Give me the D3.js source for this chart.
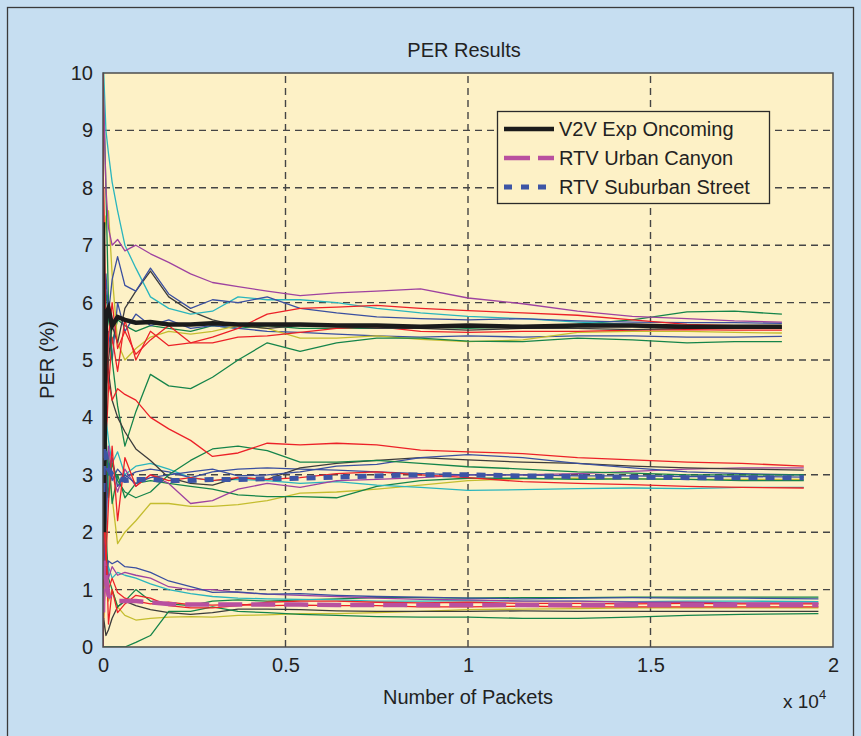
<!DOCTYPE html>
<html>
<head>
<meta charset="utf-8">
<script src="https://cdn.jsdelivr.net/npm/d3@7"></script>
<style>
body { margin: 0; background: #c6def1; }
text { font-family: "Liberation Sans", Arial, sans-serif; fill: #222; }
</style>
</head>
<body>
<svg width="861" height="736"></svg>
<script>
// ---- data ----
var xTicks = [0, 5000, 10000, 15000, 20000];
var xTickLabels = ['0', '0.5', '1', '1.5', '2'];
var yTicks = [0, 1, 2, 3, 4, 5, 6, 7, 8, 9, 10];

// V2V Exp Oncoming runs (~5.6 %)
var v2vPackets = [0, 20, 80, 150, 250, 400, 600, 900, 1300, 1800, 2400, 3000, 3700, 4500, 5400, 6400, 7500, 8700, 10000, 11500, 13000, 14500, 16000, 17300, 18600];
var v2vPurple = [10, 9.5, 8.0, 7.3, 7.0, 7.1, 6.9, 7.0, 6.85, 6.7, 6.5, 6.35, 6.28, 6.2, 6.12, 6.17, 6.2, 6.24, 6.08, 5.98, 5.85, 5.76, 5.72, 5.68, 5.66];
var v2vBlue1 = [0, 5.0, 6.5, 5.8, 6.4, 6.8, 6.3, 6.2, 6.6, 6.15, 5.9, 6.05, 6.0, 6.1, 5.9, 5.82, 5.75, 5.72, 5.7, 5.72, 5.68, 5.66, 5.65, 5.65, 5.64];
var v2vCyan = [10, 10, 9.0, 8.6, 8.1, 7.6, 7.0, 6.6, 6.1, 5.9, 5.8, 5.85, 6.1, 6.05, 6.05, 6.0, 5.9, 5.82, 5.76, 5.72, 5.66, 5.62, 5.6, 5.58, 5.57];
var v2vGray = [3, 4.0, 4.5, 5.0, 5.6, 5.3, 5.9, 6.2, 6.55, 6.1, 5.85, 5.7, 5.6, 5.55, 5.6, 5.58, 5.55, 5.55, 5.52, 5.55, 5.55, 5.53, 5.55, 5.55, 5.56];
var v2vRed1 = [10, 6.0, 4.2, 5.4, 6.0, 5.2, 5.5, 5.1, 5.35, 5.6, 5.3, 5.4, 5.55, 5.8, 5.9, 5.92, 5.95, 5.9, 5.86, 5.82, 5.78, 5.7, 5.62, 5.6, 5.58];
var v2vRed2 = [0, 2.0, 3.5, 4.5, 5.4, 4.8, 5.7, 5.0, 5.5, 5.25, 5.3, 5.3, 5.4, 5.42, 5.48, 5.55, 5.58, 5.5, 5.48, 5.5, 5.5, 5.52, 5.53, 5.52, 5.52];
var v2vOlive = [5, 7.0, 7.5, 7.6, 6.5, 5.3, 5.0, 5.2, 5.4, 5.5, 5.45, 5.5, 5.6, 5.55, 5.38, 5.38, 5.42, 5.36, 5.32, 5.35, 5.48, 5.5, 5.5, 5.48, 5.47];
var v2vGreen1 = [10, 9.5, 8.0, 6.0, 5.0, 4.2, 3.5, 4.1, 4.75, 4.55, 4.5, 4.7, 5.0, 5.3, 5.15, 5.3, 5.38, 5.38, 5.33, 5.32, 5.38, 5.35, 5.3, 5.32, 5.32];
var v2vGreen2 = [7, 5.5, 6.2, 5.7, 5.3, 5.7, 5.6, 5.5, 5.6, 5.55, 5.5, 5.6, 5.55, 5.6, 5.55, 5.55, 5.55, 5.58, 5.55, 5.58, 5.62, 5.7, 5.84, 5.85, 5.8];
var v2vBlue2 = [0, 3.0, 4.5, 5.5, 5.0, 6.0, 5.5, 5.8, 5.6, 5.7, 5.55, 5.6, 5.55, 5.5, 5.48, 5.45, 5.42, 5.4, 5.42, 5.4, 5.42, 5.42, 5.4, 5.4, 5.41];
var v2vMean = [7.4, 2.0, 5.8, 5.9, 5.6, 5.75, 5.7, 5.65, 5.66, 5.62, 5.62, 5.64, 5.62, 5.62, 5.62, 5.6, 5.6, 5.58, 5.6, 5.58, 5.6, 5.6, 5.58, 5.58, 5.58];

// RTV Suburban Street runs (~3 %)
var suburbPackets = [0, 20, 80, 150, 250, 400, 600, 900, 1300, 1800, 2400, 3000, 3700, 4500, 5400, 6400, 7500, 8700, 10000, 11500, 13000, 14500, 16000, 17500, 19200];
var suburbRed1 = [0, 8, 5.5, 4.6, 4.3, 4.5, 4.4, 4.3, 4.0, 3.8, 3.6, 3.32, 3.38, 3.55, 3.52, 3.55, 3.52, 3.43, 3.4, 3.37, 3.3, 3.26, 3.22, 3.2, 3.15];
var suburbGreen1 = [5, 1.5, 3.8, 2.6, 3.2, 2.9, 2.7, 2.6, 2.7, 3.0, 3.25, 3.45, 3.5, 3.42, 3.22, 3.22, 3.25, 3.2, 3.14, 3.1, 3.05, 3.03, 3.0, 3.0, 3.0];
var suburbGray = [6, 3.0, 5.5, 4.8, 4.3, 4.0, 3.75, 3.45, 3.25, 2.95, 2.85, 2.82, 2.95, 2.92, 3.12, 3.2, 3.25, 3.3, 3.26, 3.22, 3.2, 3.15, 3.12, 3.1, 3.08];
var suburbBlue1 = [2, 6.5, 3.5, 3.0, 3.3, 2.8, 3.0, 2.85, 2.95, 3.0, 3.05, 3.1, 2.98, 3.0, 3.05, 3.15, 3.18, 3.3, 3.35, 3.3, 3.2, 3.12, 3.05, 3.02, 3.0];
var suburbCyan = [8, 2.5, 4.0, 3.6, 3.2, 3.4, 3.0, 3.15, 3.2, 3.1, 2.95, 2.9, 2.92, 2.9, 2.85, 2.88, 2.82, 2.78, 2.73, 2.74, 2.76, 2.77, 2.76, 2.78, 2.78];
var suburbPurple = [3, 7, 2.4, 3.5, 3.0, 2.7, 3.1, 2.8, 3.0, 2.85, 2.5, 2.55, 2.75, 2.85, 2.78, 2.9, 2.92, 2.95, 3.0, 3.0, 3.02, 3.06, 3.1, 3.12, 3.12];
var suburbOlive = [1, 4, 2.8, 3.2, 2.6, 1.8, 2.0, 2.2, 2.5, 2.5, 2.45, 2.45, 2.48, 2.55, 2.68, 2.7, 2.75, 2.82, 2.9, 2.93, 2.94, 2.93, 2.92, 2.92, 2.92];
var suburbGreen2 = [9, 3.5, 2.5, 3.4, 2.5, 3.0, 2.6, 2.85, 2.9, 2.85, 2.8, 2.75, 2.65, 2.62, 2.62, 2.6, 2.8, 2.9, 2.94, 2.94, 2.92, 2.93, 2.92, 2.9, 2.9];
var suburbRed2 = [10, 0.5, 1.5, 2.5, 3.5, 2.2, 3.3, 2.8, 3.0, 2.9, 2.95, 2.9, 2.95, 2.92, 2.95, 3.02, 3.05, 3.0, 2.95, 2.88, 2.85, 2.83, 2.8, 2.78, 2.77];
var suburbBlue2 = [0, 4.5, 2.0, 3.2, 2.9, 3.1, 2.95, 3.05, 3.1, 3.05, 2.95, 3.05, 3.1, 3.12, 3.1, 3.08, 3.05, 3.02, 3.0, 3.0, 2.98, 2.98, 2.97, 2.97, 2.96];
var suburbMean = [2.7, 3.5, 3.3, 3.1, 3.0, 2.95, 2.9, 2.92, 2.92, 2.9, 2.9, 2.92, 2.92, 2.93, 2.94, 2.96, 2.98, 3.0, 3.0, 2.98, 2.97, 2.96, 2.95, 2.95, 2.95];

// RTV Urban Canyon runs (~0.7 %)
var urbanPackets = [0, 20, 80, 150, 250, 400, 600, 900, 1300, 1800, 2400, 3000, 3700, 4500, 5400, 6400, 7500, 8700, 10000, 11500, 13000, 14500, 16000, 17500, 19600];
var urbanBlue = [0, 2.0, 1.2, 1.5, 1.45, 1.5, 1.4, 1.38, 1.3, 1.15, 1.05, 0.95, 0.96, 0.92, 0.93, 0.9, 0.88, 0.87, 0.85, 0.84, 0.85, 0.86, 0.85, 0.85, 0.84];
var urbanPurple = [10, 1.0, 1.6, 1.2, 1.4, 1.25, 1.3, 1.25, 1.2, 1.05, 1.0, 1.0, 0.95, 0.92, 0.9, 0.88, 0.85, 0.83, 0.82, 0.8, 0.8, 0.78, 0.78, 0.77, 0.77];
var urbanCyan = [5, 1.8, 1.1, 1.4, 1.2, 1.3, 1.25, 1.2, 1.1, 1.0, 0.93, 0.88, 0.85, 0.84, 0.83, 0.82, 0.8, 0.8, 0.81, 0.8, 0.8, 0.79, 0.8, 0.8, 0.79];
var urbanRed1 = [10, 3.8, 1.9, 0.4, 1.0, 0.6, 0.75, 0.9, 0.85, 0.72, 0.68, 0.68, 0.72, 0.78, 0.8, 0.8, 0.78, 0.77, 0.78, 0.76, 0.76, 0.75, 0.76, 0.75, 0.75];
var urbanRed2 = [0, 2.5, 1.5, 1.0, 1.2, 0.95, 0.85, 0.8, 0.75, 0.78, 0.74, 0.73, 0.74, 0.72, 0.73, 0.72, 0.72, 0.7, 0.7, 0.71, 0.7, 0.7, 0.7, 0.7, 0.7];
var urbanGreen1 = [0, 0, 0, 0, 0, 0, 0, 0.08, 0.2, 0.62, 0.62, 0.7, 0.62, 0.6, 0.57, 0.55, 0.53, 0.52, 0.52, 0.5, 0.5, 0.52, 0.55, 0.57, 0.58];
var urbanGreen2 = [10, 4, 2.0, 1.2, 1.0, 0.7, 0.8, 1.0, 0.8, 0.75, 0.72, 0.8, 0.82, 0.8, 0.82, 0.84, 0.86, 0.86, 0.85, 0.86, 0.86, 0.87, 0.87, 0.87, 0.87];
var urbanGray = [0, 0.5, 0.2, 0.3, 0.5, 0.7, 0.8, 0.72, 0.65, 0.6, 0.57, 0.6, 0.66, 0.66, 0.65, 0.63, 0.62, 0.62, 0.62, 0.63, 0.62, 0.62, 0.62, 0.62, 0.62];
var urbanOlive = [10, 0.5, 1.5, 0.8, 1.0, 0.7, 0.55, 0.47, 0.5, 0.52, 0.53, 0.52, 0.55, 0.56, 0.58, 0.58, 0.6, 0.62, 0.65, 0.66, 0.67, 0.68, 0.68, 0.68, 0.68];
var urbanMean = [0.6, 1.5, 1.2, 0.9, 0.85, 0.8, 0.8, 0.8, 0.78, 0.75, 0.74, 0.74, 0.74, 0.74, 0.74, 0.73, 0.73, 0.73, 0.73, 0.73, 0.73, 0.73, 0.73, 0.73, 0.73];

var legendLabels = ['V2V Exp Oncoming', 'RTV Urban Canyon', 'RTV Suburban Street'];

// ---- colours ----
var c = {
	blue: '#3a4fa0', green: '#15844a', red: '#ec2128', cyan: '#2ab5bd',
	purple: '#9e42a0', olive: '#c4bd2f', gray: '#3c3c3c'
};
var bg = '#c6def1';
var plotFill = '#fdf1c6';

// ---- layout ----
var svg = d3.select('svg');
var svgWidth = +svg.attr('width');
var svgHeight = +svg.attr('height');
var plot = {l: 103, r: 833, t: 73, b: 647};

var x = d3.scaleLinear().domain([0, 20000]).range([plot.l, plot.r]);
var y = d3.scaleLinear().domain([0, 10]).range([plot.b, plot.t]);

svg.append('rect')
	.attr('width', svgWidth).attr('height', svgHeight)
	.attr('fill', bg);
svg.append('rect')
	.attr('x', 7.5).attr('y', 7.5)
	.attr('width', svgWidth - 15).attr('height', svgHeight + 10)
	.attr('fill', 'none').attr('stroke', '#3a3a3a').attr('stroke-width', 1.3);

svg.append('rect')
	.attr('x', plot.l).attr('y', plot.t)
	.attr('width', plot.r - plot.l).attr('height', plot.b - plot.t)
	.attr('fill', plotFill);

svg.append('clipPath').attr('id', 'clip')
	.append('rect')
	.attr('x', plot.l).attr('y', plot.t - 1)
	.attr('width', plot.r - plot.l).attr('height', plot.b - plot.t + 1);

// grid (interior ticks only)
var grid = svg.append('g')
	.attr('stroke', '#454545')
	.attr('stroke-width', 1.4)
	.attr('stroke-dasharray', '7,5');

grid.selectAll('.gx')
	.data(xTicks.slice(1, -1))
	.enter().append('line')
	.attr('x1', function(d) { return x(d); })
	.attr('x2', function(d) { return x(d); })
	.attr('y1', plot.b).attr('y2', plot.t);

grid.selectAll('.gy')
	.data(yTicks.slice(1, -1))
	.enter().append('line')
	.attr('y1', function(d) { return y(d); })
	.attr('y2', function(d) { return y(d); })
	.attr('x1', plot.l).attr('x2', plot.r);

// runs
function drawRuns(packets, runs) {
	var line = d3.line()
		.x(function(d, i) { return x(packets[i]); })
		.y(function(d) { return y(d); });
	svg.append('g')
		.attr('clip-path', 'url(#clip)')
		.selectAll('path')
		.data(runs)
		.enter().append('path')
		.attr('d', function(d) { return line(d.values); })
		.attr('fill', 'none')
		.attr('stroke', function(d) { return d.color; })
		.attr('stroke-width', 1.3)
		.attr('stroke-linejoin', 'round');
	return line;
}

var v2vLine = drawRuns(v2vPackets, [
	{values: v2vGreen2, color: c.green},
	{values: v2vBlue2, color: c.blue},
	{values: v2vOlive, color: c.olive},
	{values: v2vRed2, color: c.red},
	{values: v2vGreen1, color: c.green},
	{values: v2vGray, color: c.gray},
	{values: v2vCyan, color: c.cyan},
	{values: v2vBlue1, color: c.blue},
	{values: v2vRed1, color: c.red},
	{values: v2vPurple, color: c.purple}
]);

var suburbLine = drawRuns(suburbPackets, [
	{values: suburbOlive, color: c.olive},
	{values: suburbGreen2, color: c.green},
	{values: suburbCyan, color: c.cyan},
	{values: suburbPurple, color: c.purple},
	{values: suburbBlue2, color: c.blue},
	{values: suburbGray, color: c.gray},
	{values: suburbBlue1, color: c.blue},
	{values: suburbGreen1, color: c.green},
	{values: suburbRed2, color: c.red},
	{values: suburbRed1, color: c.red}
]);

var urbanLine = drawRuns(urbanPackets, [
	{values: urbanOlive, color: c.olive},
	{values: urbanGray, color: c.gray},
	{values: urbanGreen1, color: c.green},
	{values: urbanGreen2, color: c.green},
	{values: urbanCyan, color: c.cyan},
	{values: urbanPurple, color: c.purple},
	{values: urbanBlue, color: c.blue},
	{values: urbanRed2, color: c.red},
	{values: urbanRed1, color: c.red}
]);

// averages (thick)
var meanStyles = [
	{color: '#1b1b1b', dash: null},
	{color: '#b8509f', dash: '24,9'},
	{color: '#3d55a5', dash: '9,8'}
];

var means = svg.append('g').attr('clip-path', 'url(#clip)');
means.append('path')
	.attr('d', v2vLine(v2vMean))
	.attr('fill', 'none').attr('stroke', meanStyles[0].color).attr('stroke-width', 4.5);
means.append('path')
	.attr('d', urbanLine(urbanMean))
	.attr('fill', 'none').attr('stroke', meanStyles[1].color).attr('stroke-width', 4.5)
	.attr('stroke-dasharray', meanStyles[1].dash);
means.append('path')
	.attr('d', suburbLine(suburbMean))
	.attr('fill', 'none').attr('stroke', meanStyles[2].color).attr('stroke-width', 5)
	.attr('stroke-dasharray', meanStyles[2].dash);

// box
svg.append('rect')
	.attr('x', plot.l).attr('y', plot.t)
	.attr('width', plot.r - plot.l).attr('height', plot.b - plot.t)
	.attr('fill', 'none').attr('stroke', '#4d4d4d').attr('stroke-width', 1.5);

// axes
var xAxis = svg.append('g')
	.attr('transform', 'translate(0,' + plot.b + ')')
	.call(d3.axisBottom(x)
		.tickValues(xTicks)
		.tickFormat(function(d, i) { return xTickLabels[i]; })
		.tickSize(0)
		.tickPadding(11));
xAxis.select('.domain').remove();

var yAxis = svg.append('g')
	.attr('transform', 'translate(' + plot.l + ',0)')
	.call(d3.axisLeft(y)
		.tickValues(yTicks)
		.tickFormat(d3.format('d'))
		.tickSize(0)
		.tickPadding(10));
yAxis.select('.domain').remove();

svg.selectAll('.tick text')
	.style('font-size', '20px')
	.style('font-family', '"Liberation Sans", Arial, sans-serif')
	.attr('fill', '#222');

// labels
svg.append('text')
	.attr('x', 464).attr('y', 57)
	.attr('text-anchor', 'middle')
	.style('font-size', '20px')
	.text('PER Results');

svg.append('text')
	.attr('x', (plot.l + plot.r) / 2).attr('y', 704)
	.attr('text-anchor', 'middle')
	.style('font-size', '20px')
	.text('Number of Packets');

svg.append('text')
	.attr('transform', 'translate(54,' + ((plot.t + plot.b) / 2) + ') rotate(-90)')
	.attr('text-anchor', 'middle')
	.style('font-size', '20px')
	.text('PER (%)');

var expo = svg.append('text')
	.attr('x', 783).attr('y', 708)
	.style('font-size', '19px')
	.text('x 10');
expo.append('tspan')
	.attr('dy', -9)
	.style('font-size', '13px')
	.text('4');

// legend
var legend = svg.append('g');
legend.append('rect')
	.attr('x', 497.5).attr('y', 111.5)
	.attr('width', 272).attr('height', 92)
	.attr('fill', plotFill)
	.attr('stroke', '#2a2a2a').attr('stroke-width', 1.3);

var rows = legend.selectAll('.row')
	.data(legendLabels)
	.enter().append('g')
	.attr('transform', function(d, i) { return 'translate(504,' + (129 + i * 29) + ')'; });

rows.append('line')
	.attr('x1', 0).attr('x2', 50)
	.attr('stroke', function(d, i) { return meanStyles[i].color; })
	.attr('stroke-width', function(d, i) { return i == 2 ? 5 : 4.5; })
	.attr('stroke-dasharray', function(d, i) { return i == 2 ? '8,9' : (i == 1 ? '26,8' : null); });

rows.append('text')
	.attr('x', 55).attr('y', 7)
	.style('font-size', '20px')
	.text(function(d) { return d; });
</script>
</body>
</html>
